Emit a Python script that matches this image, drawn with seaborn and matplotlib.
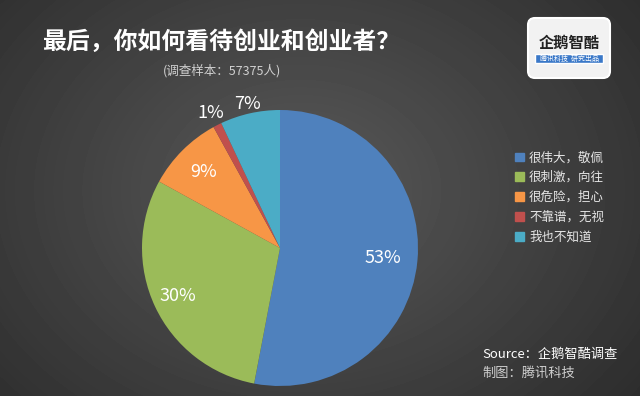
import numpy as np
import matplotlib
matplotlib.use("Agg")
import matplotlib.pyplot as plt
import seaborn as sns
from matplotlib.patches import FancyBboxPatch, Rectangle

sns.set_style("white")
plt.rcParams["font.family"] = ["Noto Sans CJK SC", "DejaVu Sans"]

# data
categories = ["很伟大，敬佩", "很刺激，向往", "很危险，担心", "不靠谱，无视", "我也不知道"]
shares = [53, 30, 9, 1, 7]
colors = ["#4F81BD", "#9BBB59", "#F79646", "#C0504D", "#4BACC6"]
label_dist = [0.75, 0.82, 0.78, 1.10, 1.07]

title = "最后，你如何看待创业和创业者？"
subtitle = "(调查样本：57375人)"

fig = plt.figure(figsize=(6.4, 3.96), dpi=100)

# radial gradient background
bg = fig.add_axes([0, 0, 1, 1])
yy, xx = np.mgrid[0:396, 0:640]
d = np.sqrt(((xx - 300) / 420.0) ** 2 + ((yy - 190) / 330.0) ** 2)
shade = np.clip(0.35 - 0.17 * d, 0.15, 0.35)
bg.imshow(shade, cmap="gray", vmin=0, vmax=1, aspect="auto", extent=[0, 640, 396, 0])
bg.set_xlim(0, 640)
bg.set_ylim(396, 0)
bg.axis("off")

# pie
ax = fig.add_axes([(280 - 138) / 640, 1 - (248 + 138) / 396, 276 / 640, 276 / 396])
wedges, _, autotexts = ax.pie(shares, colors=colors, startangle=90, counterclock=False,
                              autopct=lambda p: "%d%%" % round(p),
                              wedgeprops=dict(linewidth=0),
                              textprops=dict(color="white", fontsize=13))
total = sum(shares)
cum = 0
for t, s, r in zip(autotexts, shares, label_dist):
    mid = 90 - 360 * (cum + s / 2) / total
    t.set_position((r * np.cos(np.radians(mid)), r * np.sin(np.radians(mid))))
    cum += s
ax.set_xlim(-1, 1)
ax.set_ylim(-1, 1)
ax.set_aspect("equal")
ax.axis("off")

# legend
handles = [Rectangle((0, 0), 1, 1, color=c) for c in colors]
fig.legend(handles, categories, loc="upper left", bbox_to_anchor=(504 / 640, 1 - 140 / 396),
           frameon=False, fontsize=9, labelcolor="#e6e6e6", handlelength=0.7,
           handleheight=0.7, handletextpad=0.4, labelspacing=0.55)

# titles
bg.text(221, 42, title, color="white", fontsize=17.2, fontweight="bold", ha="center", va="center")
bg.text(222, 71, subtitle, color="#d0d0d0", fontsize=9, ha="center", va="center")

# logo
bg.add_patch(FancyBboxPatch((528, 18), 82, 60, boxstyle="round,pad=0,rounding_size=7",
                            facecolor="#f2f2f2", edgecolor="white", linewidth=1.5))
bg.text(569, 43, "企鹅智酷", color="#222222", fontsize=11, fontweight="bold", ha="center", va="center")
bg.add_patch(Rectangle((535, 54), 68, 9, facecolor="#3a78c8"))
bg.text(569, 58.5, "腾讯科技  研究出品", color="white", fontsize=5,
        ha="center", va="center")

# source
bg.text(482, 354, "Source：企鹅智酷调查", color="white", fontsize=9.5, fontstyle="italic",
        ha="left", va="center")
bg.text(482, 373, "制图：腾讯科技", color="#cfcfcf", fontsize=9.5, fontstyle="italic",
        ha="left", va="center")

plt.savefig("out.png", dpi=100)
plt.close()
